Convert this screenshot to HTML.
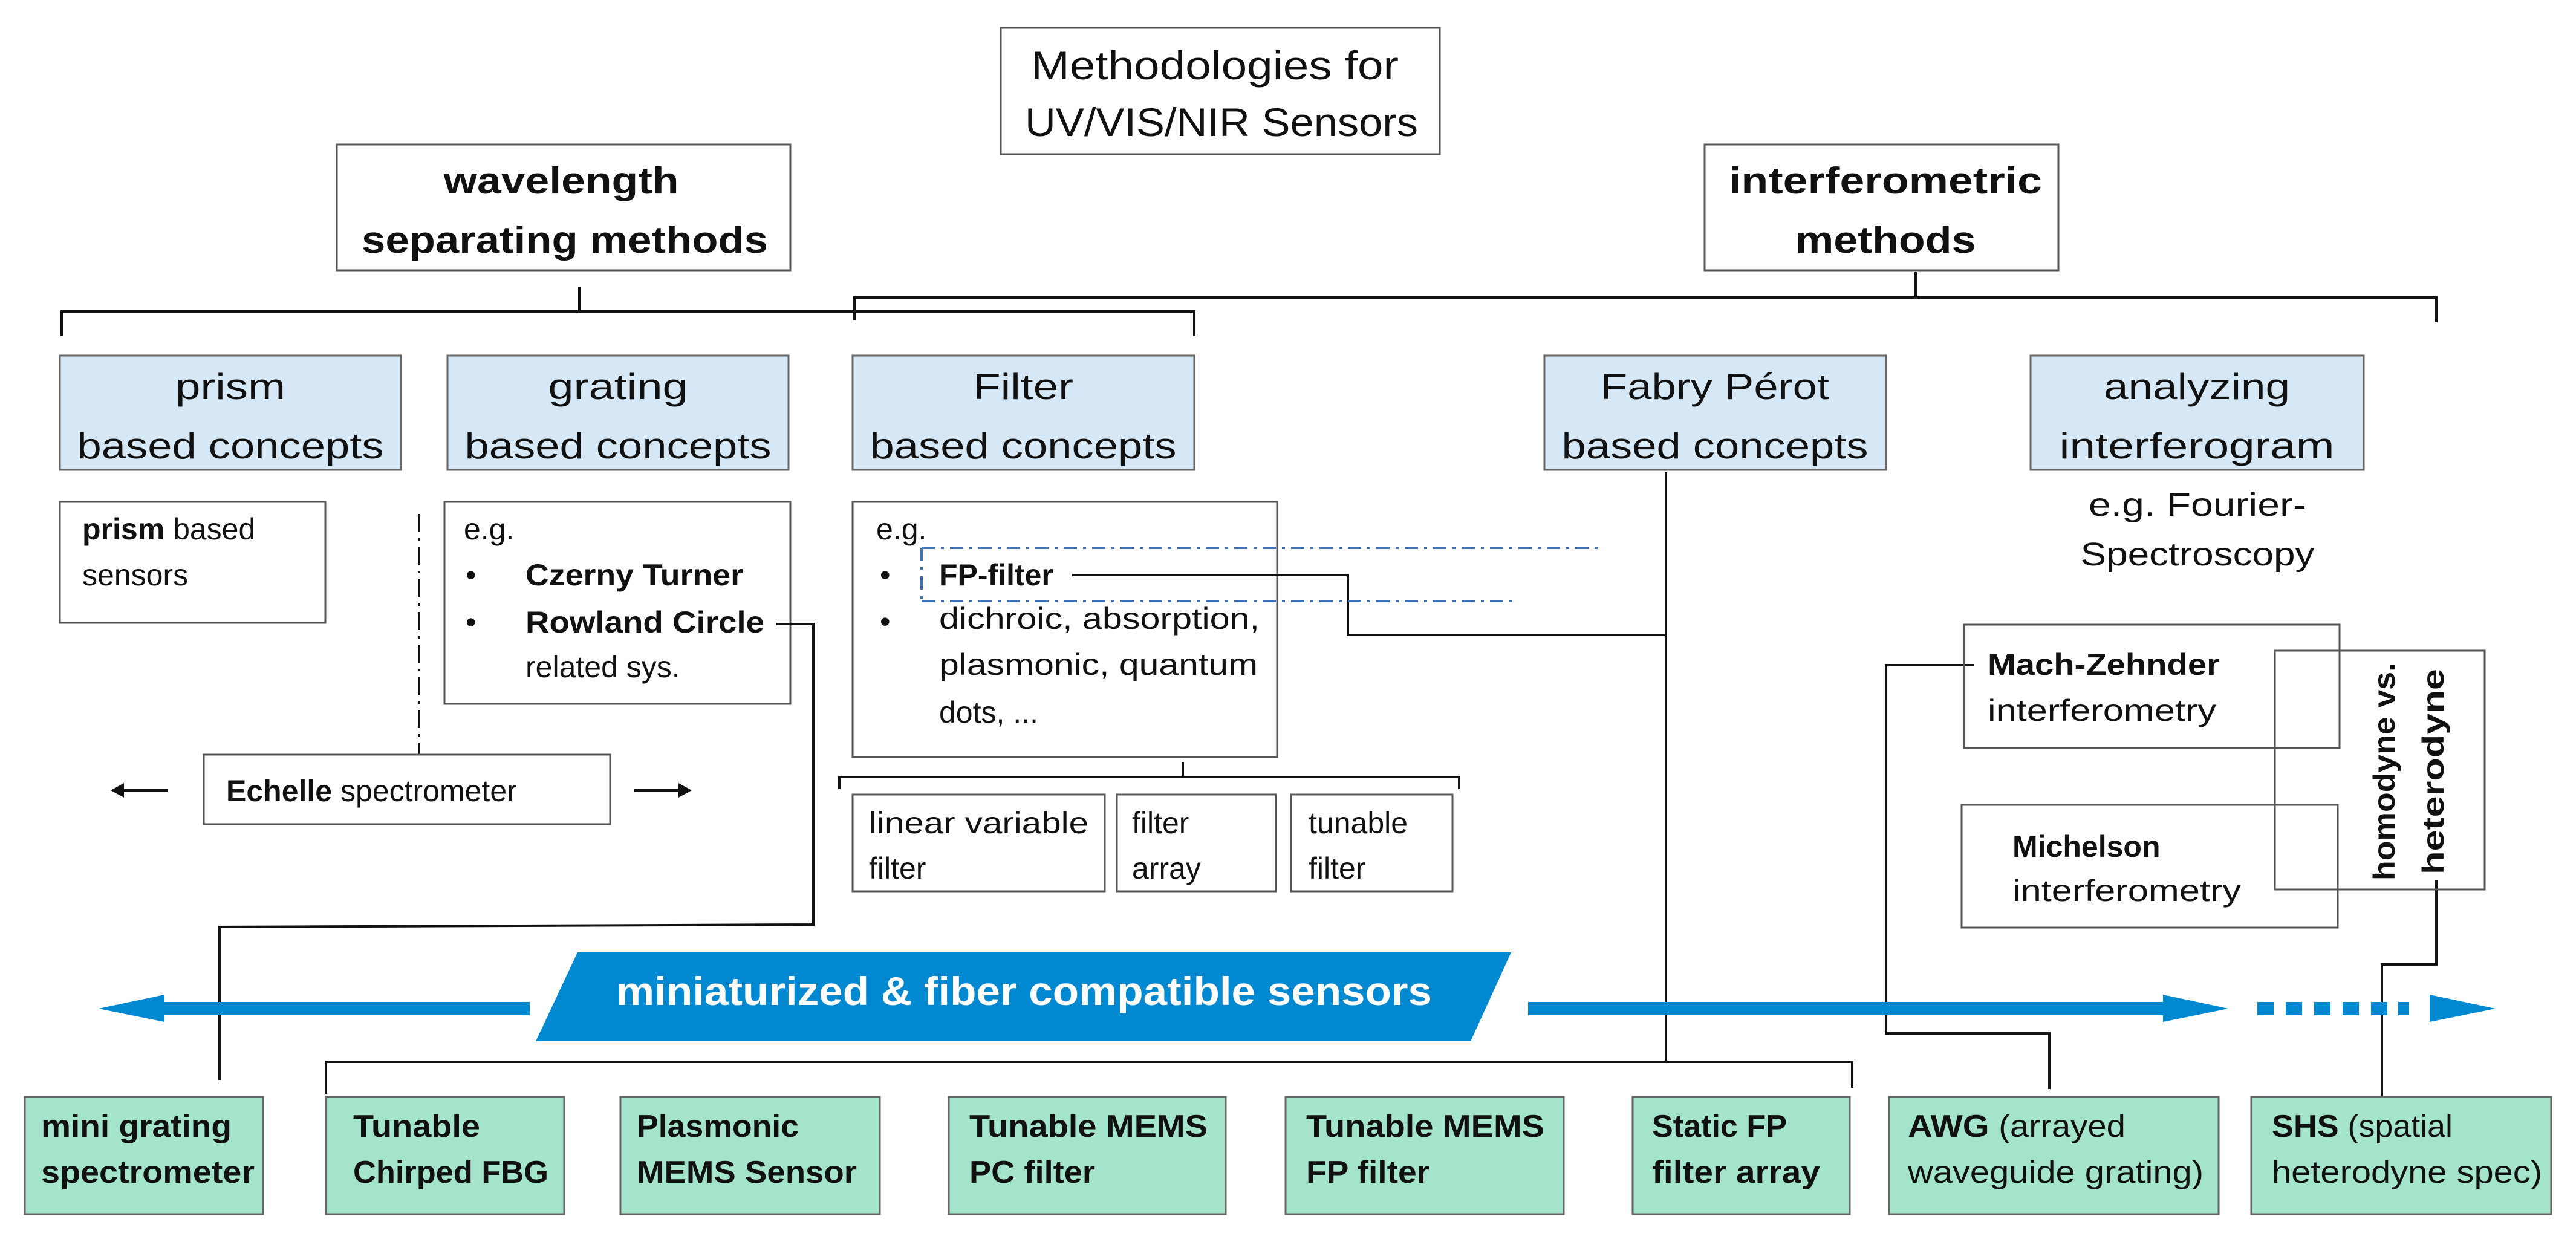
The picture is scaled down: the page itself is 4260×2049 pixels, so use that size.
<!DOCTYPE html>
<html><head><meta charset="utf-8"><style>
html,body{margin:0;padding:0;background:#fff;}
svg{display:block;}
text{font-family:"Liberation Sans",sans-serif;fill:#111;}
</style></head><body>
<svg width="4260" height="2049" viewBox="0 0 4260 2049" xmlns="http://www.w3.org/2000/svg">
<g stroke="#111" stroke-width="4" fill="none">
<line x1="958" y1="475" x2="958" y2="515"/>
<polyline points="102,556 102,515 1975,515 1975,556"/>
<line x1="3168" y1="450" x2="3168" y2="490"/>
<polyline points="1413,530 1413,492 4029,492 4029,533"/>
<line x1="2755" y1="781" x2="2755" y2="1756"/>
<polyline points="539,1809 539,1756 3063,1756 3063,1799"/>
<polyline points="1388,1305 1388,1285 2413,1285 2413,1305"/>
<line x1="1956" y1="1260" x2="1956" y2="1285"/>
<polyline points="3264,1100 3119,1100 3119,1709 3389,1709 3389,1801"/>
<polyline points="4029,1456 4029,1595 3939,1595 3939,1814"/>
</g>
<line x1="693" y1="850" x2="693" y2="1247" stroke="#111" stroke-width="3" stroke-dasharray="30,10,4,10"/>

<g fill="#fff" stroke="#555" stroke-width="3">
<rect x="1655" y="46" width="726" height="209"/>
<rect x="557" y="239" width="750" height="208"/>
<rect x="2819" y="239" width="585" height="208"/>
<rect x="99" y="830" width="439" height="200"/>
<rect x="735" y="830" width="572" height="334"/>
<rect x="1410" y="830" width="702" height="422"/>
<rect x="337" y="1248" width="672" height="115"/>
<rect x="1410" y="1314" width="417" height="160"/>
<rect x="1847" y="1314" width="263" height="160"/>
<rect x="2135" y="1314" width="267" height="160"/>
<rect x="3248" y="1033" width="621" height="204" fill="none"/>
<rect x="3244" y="1331" width="622" height="203" fill="none"/>
<rect x="3762" y="1076" width="347" height="395" fill="none"/>
</g>
<g fill="#d6e8f5" stroke="#666" stroke-width="3">
<rect x="99" y="588" width="564" height="189"/>
<rect x="740" y="588" width="564" height="189"/>
<rect x="1410" y="588" width="565" height="189"/>
<rect x="2554" y="588" width="565" height="189"/>
<rect x="3358" y="588" width="551" height="189"/>
</g>
<g fill="#a3e4cb" stroke="#666" stroke-width="3">
<rect x="41" y="1814" width="394" height="194"/>
<rect x="539" y="1814" width="394" height="194"/>
<rect x="1026" y="1814" width="429" height="194"/>
<rect x="1569" y="1814" width="458" height="194"/>
<rect x="2126" y="1814" width="460" height="194"/>
<rect x="2700" y="1814" width="359" height="194"/>
<rect x="3124" y="1814" width="545" height="194"/>
<rect x="3723" y="1814" width="496" height="194"/>
</g>

<!-- connectors over boxes -->
<g stroke="#111" stroke-width="4" fill="none">
<polyline points="1284,1032 1345,1032 1345,1529 363,1533 363,1786"/>
<polyline points="1773,951 2229,951 2229,1050 2755,1050"/>
</g>
<g stroke="#3f6fb5" stroke-width="4" fill="none" stroke-dasharray="22,10,5,10">
<line x1="1524" y1="906" x2="2646" y2="906"/>
<line x1="1524" y1="994" x2="2504" y2="994"/>
<line x1="1524" y1="906" x2="1524" y2="994"/>
</g>

<g fill="#0088d1">
<polygon points="163,1668 272,1645 272,1657 876,1657 876,1679 272,1679 272,1690"/>
<polygon points="955,1575 2499,1575 2432,1722 886,1722"/>
<polygon points="2527,1657 3577,1657 3577,1645 3685,1668 3577,1690 3577,1679 2527,1679"/>
<rect x="3733" y="1657" width="27" height="22"/>
<rect x="3780" y="1657" width="27" height="22"/>
<rect x="3827" y="1657" width="27" height="22"/>
<rect x="3874" y="1657" width="27" height="22"/>
<rect x="3921" y="1657" width="27" height="22"/>
<rect x="3966" y="1657" width="18" height="22"/>
<polygon points="4018,1645 4127,1668 4018,1690"/>
</g>
<g stroke="#111" stroke-width="5" fill="#111">
<line x1="278" y1="1307" x2="200" y2="1307"/>
<polygon points="183,1307 205,1295 205,1319" stroke="none"/>
<line x1="1049" y1="1307" x2="1127" y2="1307"/>
<polygon points="1144,1307 1122,1295 1122,1319" stroke="none"/>
</g>

<g font-size="66" text-anchor="middle">
<text x="2009" y="131" textLength="608" lengthAdjust="spacingAndGlyphs">Methodologies for</text>
<text x="2020" y="225" textLength="650" lengthAdjust="spacingAndGlyphs">UV/VIS/NIR Sensors</text>
</g>
<g font-size="62" text-anchor="middle" font-weight="bold">
<text x="928" y="320" textLength="389" lengthAdjust="spacingAndGlyphs">wavelength</text>
<text x="934" y="418" textLength="672" lengthAdjust="spacingAndGlyphs">separating methods</text>
<text x="3118" y="320" textLength="518" lengthAdjust="spacingAndGlyphs">interferometric</text>
<text x="3118" y="418" textLength="299" lengthAdjust="spacingAndGlyphs">methods</text>
</g>
<g font-size="60" text-anchor="middle">
<text x="381" y="660" textLength="182" lengthAdjust="spacingAndGlyphs">prism</text>
<text x="381" y="758" textLength="507" lengthAdjust="spacingAndGlyphs">based concepts</text>
<text x="1022" y="660" textLength="231" lengthAdjust="spacingAndGlyphs">grating</text>
<text x="1022" y="758" textLength="507" lengthAdjust="spacingAndGlyphs">based concepts</text>
<text x="1692" y="660" textLength="166" lengthAdjust="spacingAndGlyphs">Filter</text>
<text x="1692" y="758" textLength="507" lengthAdjust="spacingAndGlyphs">based concepts</text>
<text x="2836" y="660" textLength="378" lengthAdjust="spacingAndGlyphs">Fabry Pérot</text>
<text x="2836" y="758" textLength="507" lengthAdjust="spacingAndGlyphs">based concepts</text>
<text x="3633" y="660" textLength="308" lengthAdjust="spacingAndGlyphs">analyzing</text>
<text x="3633" y="758" textLength="455" lengthAdjust="spacingAndGlyphs">interferogram</text>
<text x="3634" y="853" font-size="54" textLength="360" lengthAdjust="spacingAndGlyphs">e.g. Fourier-</text>
<text x="3634" y="935" font-size="54" textLength="387" lengthAdjust="spacingAndGlyphs">Spectroscopy</text>
</g>
<g font-size="50">
<text x="136" y="892"><tspan font-weight="bold">prism</tspan> based</text>
<text x="136" y="968">sensors</text>
<text x="767" y="892">e.g.</text>
<text x="770" y="968">•</text>
<text x="869" y="968" font-weight="bold" textLength="360" lengthAdjust="spacingAndGlyphs">Czerny Turner</text>
<text x="770" y="1046">•</text>
<text x="869" y="1046" font-weight="bold" textLength="395" lengthAdjust="spacingAndGlyphs">Rowland Circle</text>
<text x="869" y="1120">related sys.</text>
<text x="1449" y="892">e.g.</text>
<text x="1455" y="968">•</text>
<text x="1553" y="968" font-weight="bold">FP-filter</text>
<text x="1455" y="1045">•</text>
<text x="1553" y="1040" textLength="530" lengthAdjust="spacingAndGlyphs">dichroic, absorption,</text>
<text x="1553" y="1116" textLength="527" lengthAdjust="spacingAndGlyphs">plasmonic, quantum</text>
<text x="1553" y="1195">dots, ...</text>
<text x="374" y="1325"><tspan font-weight="bold">Echelle</tspan> spectrometer</text>
<text x="1437" y="1378" textLength="363" lengthAdjust="spacingAndGlyphs">linear variable</text>
<text x="1437" y="1453">filter</text>
<text x="1872" y="1378">filter</text>
<text x="1872" y="1453">array</text>
<text x="2164" y="1378">tunable</text>
<text x="2164" y="1453">filter</text>
<text x="3287" y="1116" font-weight="bold" textLength="384" lengthAdjust="spacingAndGlyphs">Mach-Zehnder</text>
<text x="3287" y="1192" textLength="378" lengthAdjust="spacingAndGlyphs">interferometry</text>
<text x="3328" y="1417" font-weight="bold">Michelson</text>
<text x="3328" y="1490" textLength="378" lengthAdjust="spacingAndGlyphs">interferometry</text>
</g>
<g font-size="50" font-weight="bold" text-anchor="middle">
<text transform="translate(3960,1276) rotate(-90)" textLength="360" lengthAdjust="spacingAndGlyphs">homodyne vs.</text>
<text transform="translate(4041,1276) rotate(-90)" textLength="340" lengthAdjust="spacingAndGlyphs">heterodyne</text>
</g>
<text x="1019" y="1662" font-size="66" font-weight="bold" style="fill:#fff" textLength="1349" lengthAdjust="spacingAndGlyphs">miniaturized &amp; fiber compatible sensors</text>
<g font-size="52" font-weight="bold">
<text x="68" y="1880" textLength="315" lengthAdjust="spacingAndGlyphs">mini grating</text>
<text x="68" y="1956" textLength="353" lengthAdjust="spacingAndGlyphs">spectrometer</text>
<text x="584" y="1880" textLength="210" lengthAdjust="spacingAndGlyphs">Tunable</text>
<text x="584" y="1956" textLength="323" lengthAdjust="spacingAndGlyphs">Chirped FBG</text>
<text x="1053" y="1880" textLength="268" lengthAdjust="spacingAndGlyphs">Plasmonic</text>
<text x="1053" y="1956" textLength="364" lengthAdjust="spacingAndGlyphs">MEMS Sensor</text>
<text x="1603" y="1880" textLength="394" lengthAdjust="spacingAndGlyphs">Tunable MEMS</text>
<text x="1603" y="1956" textLength="208" lengthAdjust="spacingAndGlyphs">PC filter</text>
<text x="2160" y="1880" textLength="394" lengthAdjust="spacingAndGlyphs">Tunable MEMS</text>
<text x="2160" y="1956" textLength="204" lengthAdjust="spacingAndGlyphs">FP filter</text>
<text x="2732" y="1880" textLength="223" lengthAdjust="spacingAndGlyphs">Static FP</text>
<text x="2732" y="1956" textLength="278" lengthAdjust="spacingAndGlyphs">filter array</text>
<text x="3155" y="1880" textLength="360" lengthAdjust="spacingAndGlyphs">AWG<tspan font-weight="normal"> (arrayed</tspan></text>
<text x="3155" y="1956" font-weight="normal" textLength="489" lengthAdjust="spacingAndGlyphs">waveguide grating)</text>
<text x="3757" y="1880" textLength="299" lengthAdjust="spacingAndGlyphs">SHS<tspan font-weight="normal"> (spatial</tspan></text>
<text x="3757" y="1956" font-weight="normal" textLength="447" lengthAdjust="spacingAndGlyphs">heterodyne spec)</text>
</g>
</svg>
</body></html>
